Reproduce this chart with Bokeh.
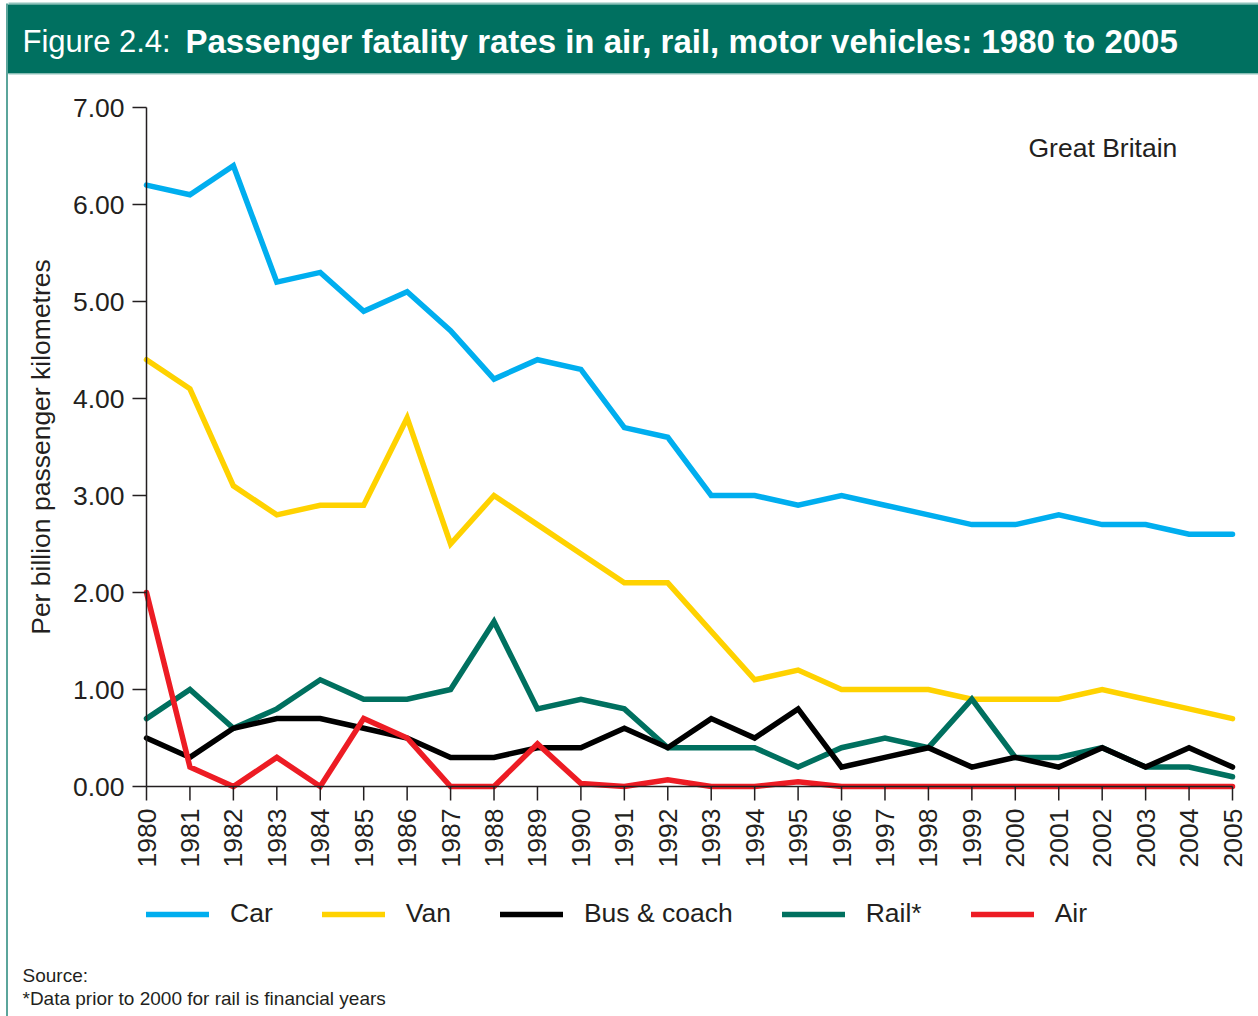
import math
from bokeh.plotting import figure
from bokeh.models import Range1d, Legend, LegendItem
from bokeh.core.properties import value
from bokeh.embed import file_html
from bokeh.resources import INLINE

# ---------------- data ----------------
years = list(range(1980, 2006))
year_labels = [str(y) for y in years]
y_ticks = [0, 1, 2, 3, 4, 5, 6, 7]
y_tick_labels = ["0.00", "1.00", "2.00", "3.00", "4.00", "5.00", "6.00", "7.00"]

car = [6.2, 6.1, 6.4, 5.2, 5.3, 4.9, 5.1, 4.7, 4.2, 4.4, 4.3, 3.7, 3.6,
       3.0, 3.0, 2.9, 3.0, 2.9, 2.8, 2.7, 2.7, 2.8, 2.7, 2.7, 2.6, 2.6]
van = [4.4, 4.1, 3.1, 2.8, 2.9, 2.9, 3.8, 2.5, 3.0, 2.7, 2.4, 2.1, 2.1,
       1.6, 1.1, 1.2, 1.0, 1.0, 1.0, 0.9, 0.9, 0.9, 1.0, 0.9, 0.8, 0.7]
bus = [0.5, 0.3, 0.6, 0.7, 0.7, 0.6, 0.5, 0.3, 0.3, 0.4, 0.4, 0.6, 0.4,
       0.7, 0.5, 0.8, 0.2, 0.3, 0.4, 0.2, 0.3, 0.2, 0.4, 0.2, 0.4, 0.2]
rail = [0.7, 1.0, 0.6, 0.8, 1.1, 0.9, 0.9, 1.0, 1.7, 0.8, 0.9, 0.8, 0.4,
        0.4, 0.4, 0.2, 0.4, 0.5, 0.4, 0.9, 0.3, 0.3, 0.4, 0.2, 0.2, 0.1]
air = [2.0, 0.2, 0.0, 0.3, 0.0, 0.7, 0.5, 0.0, 0.0, 0.44, 0.03, 0.0, 0.07,
       0.0, 0.0, 0.05, 0.0, 0.0, 0.0, 0.0, 0.0, 0.0, 0.0, 0.0, 0.0, 0.0]

series_names = ["Car", "Van", "Bus & coach", "Rail*", "Air"]
series_colors = ["#00aeef", "#ffd200", "#000000", "#00705f", "#ed1c24"]

title_prefix = "Figure 2.4:"
title_main = "Passenger fatality rates in air, rail, motor vehicles: 1980 to 2005"
y_label = "Per billion passenger kilometres"
region_note = "Great Britain"
source_lines = ["Source:", "*Data prior to 2000 for rail is financial years"]

# ---------------- geometry / style ----------------
FONT = value("Liberation Sans")
INK = "#231f20"
GREEN = "#007060"
BORDER = "#5ba59b"
W, H = 1258, 1016
# plot area on the page (pixels)
PL, PR, PT, PB = 146, 1232, 107, 786
X0, X1 = years[0], years[-1]
Y0, Y1 = y_ticks[0], y_ticks[-1]
XPX = (PR - PL) / (X1 - X0)   # pixels per year
YPX = (PB - PT) / (Y1 - Y0)   # pixels per unit


def dx(px):  # page x pixel -> data x
    return X0 + (px - PL) / XPX


def dy(py):  # page y pixel -> data y
    return Y0 + (PB - py) / YPX


p = figure(width=W, height=H, output_backend="svg", toolbar_location=None,
           x_axis_type=None, y_axis_type=None,
           x_range=Range1d(dx(0), dx(W)), y_range=Range1d(dy(H), dy(0)),
           min_border=0, min_border_left=0, min_border_right=0,
           min_border_top=0, min_border_bottom=0)
p.title.visible = False
p.outline_line_color = None
p.grid.visible = False
p.background_fill_color = "white"
p.border_fill_color = "white"

# ---- frame decoration: header band and left border ----
p.quad(left=[dx(8)], right=[dx(W)], top=[dy(2)], bottom=[dy(4)],
       fill_color="#8fc3bc", line_color=None)
p.quad(left=[dx(7)], right=[dx(W)], top=[dy(4)], bottom=[dy(73)],
       fill_color=GREEN, line_color=None)
p.quad(left=[dx(8)], right=[dx(W)], top=[dy(73)], bottom=[dy(74)],
       fill_color="#8fc3bc", line_color=None)
p.quad(left=[dx(5.5)], right=[dx(7.5)], top=[dy(3)], bottom=[dy(H)],
       fill_color=BORDER, line_color=None)

p.text(x=[dx(22)], y=[dy(41)], text=[title_prefix], text_font=FONT,
       text_font_size="31px", text_color="white", text_baseline="middle")
p.text(x=[dx(185)], y=[dy(41)], text=[title_main], text_font=FONT,
       text_font_size="33px", text_font_style="bold", text_color="white",
       text_baseline="middle")

# ---- series ----
data = {"Car": car, "Van": van, "Bus & coach": bus, "Rail*": rail, "Air": air}
renderers = {}
for name in ["Car", "Van", "Rail*", "Bus & coach", "Air"]:
    color = series_colors[series_names.index(name)]
    renderers[name] = p.line(years, data[name], line_color=color, line_width=5.5,
                             line_join="miter", line_cap="round")

# ---- axes (drawn through the plot's scales, on top of the series) ----
TICK = 14
p.segment(x0=[X0], y0=[Y0], x1=[X0], y1=[Y1], line_color=INK, line_width=1.5)
p.segment(x0=[X0], y0=[Y0], x1=[X1], y1=[Y0], line_color=INK, line_width=1.5)
p.segment(x0=[X0 - TICK / XPX] * len(y_ticks), y0=y_ticks,
          x1=[X0] * len(y_ticks), y1=y_ticks, line_color=INK, line_width=1.5)
p.segment(x0=years, y0=[Y0] * len(years), x1=years, y1=[Y0 - TICK / YPX] * len(years),
          line_color=INK, line_width=1.5)
p.text(x=[X0 - 22 / XPX] * len(y_ticks), y=y_ticks, text=y_tick_labels,
       text_font=FONT, text_font_size="26.5px", text_color=INK,
       text_align="right", text_baseline="middle")
p.text(x=years, y=[Y0 - 22 / YPX] * len(years), text=year_labels, angle=math.pi / 2,
       text_font=FONT, text_font_size="26.5px", text_color=INK,
       text_align="right", text_baseline="middle")
p.text(x=[dx(40)], y=[(Y0 + Y1) / 2], text=[y_label], angle=math.pi / 2,
       text_font=FONT, text_font_size="26.5px", text_color=INK,
       text_align="center", text_baseline="middle")

# ---- legend ----
LEG_H = 28
legend = Legend(items=[LegendItem(label=n, renderers=[renderers[n]]) for n in series_names],
                orientation="horizontal", location=(PL, H - 915 - LEG_H // 2),
                glyph_width=63, glyph_height=LEG_H, label_height=LEG_H,
                label_standoff=21, spacing=49, padding=0, margin=0,
                border_line_color=None, background_fill_alpha=0,
                label_text_font="Liberation Sans", label_text_font_size="26.5px",
                label_text_color=INK)
p.add_layout(legend)

# ---- notes ----
p.text(x=[dx(1028)], y=[dy(147)], text=[region_note], text_font=FONT,
       text_font_size="26.5px", text_color=INK, text_baseline="middle")
p.text(x=[dx(22)] * len(source_lines), y=[dy(975 + 23 * i) for i in range(len(source_lines))],
       text=source_lines, text_font=FONT, text_font_size="19px", text_color=INK,
       text_baseline="middle")

open("out.html", "w").write(file_html(p, INLINE))
